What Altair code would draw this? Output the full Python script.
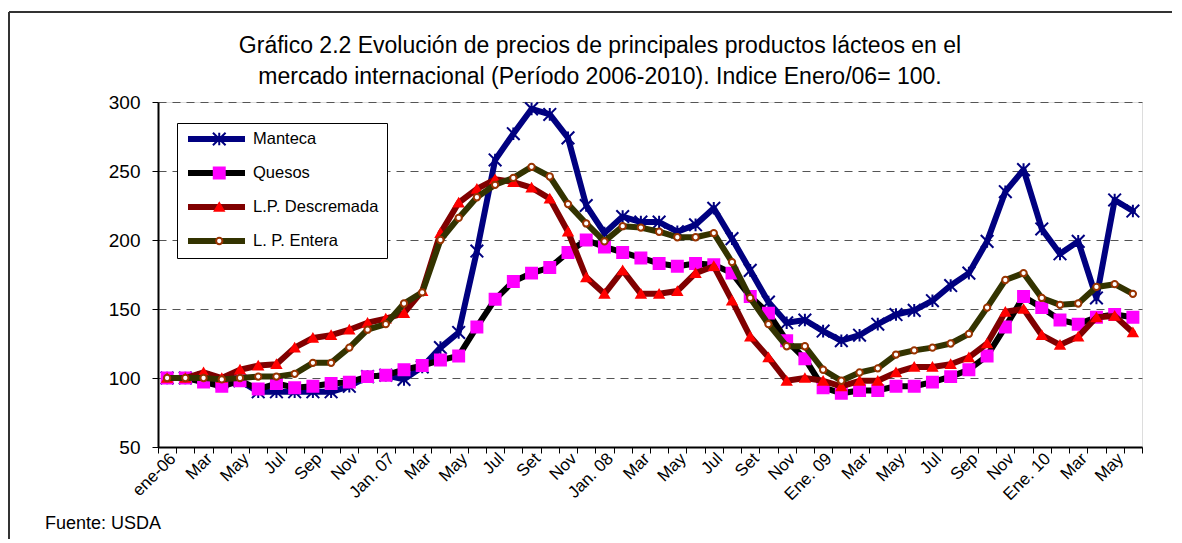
import json
import altair as alt
import pandas as pd

# ---------------- data ----------------
series_names = ["Manteca", "Quesos", "L.P. Descremada", "L. P. Entera"]

tick_labels = ["ene-06", "Mar", "May", "Jul", "Sep", "Nov", "Jan. 07", "Mar", "May",
               "Jul", "Set", "Nov", "Jan. 08", "Mar", "May", "Jul", "Set", "Nov",
               "Ene. 09", "Mar", "May", "Jul", "Sep", "Nov", "Ene. 10", "Mar", "May"]

manteca = [100, 100, 100, 97, 98, 90, 90, 90, 90, 90,
           94, 101, 102, 99, 108, 122, 133, 192, 258, 277,
           295, 291, 274, 225, 205, 217, 213, 213, 206, 211,
           223, 201, 178, 155, 140, 142, 134, 127, 131, 139,
           146, 149, 156, 167, 176, 199, 235, 251, 208, 190,
           199, 158, 229, 221]

quesos = [100, 100, 97, 94, 98, 92, 96, 93, 94, 96,
          97, 101, 102, 106, 109, 113, 116, 137, 157, 170,
          176, 180, 191, 200, 195, 191, 187, 183, 181, 183,
          182, 176, 159, 147, 127, 114, 93, 89, 91, 91,
          94, 94, 97, 101, 106, 116, 137, 159, 151, 142,
          139, 144, 146, 144]

descremada = [100, 100, 104, 100, 106, 109, 110, 122, 129, 131,
              135, 140, 143, 147, 163, 205, 227, 237, 244, 242,
              238, 230, 206, 173, 161, 178, 161, 161, 163, 176,
              181, 156, 130, 115, 98, 100, 98, 94, 98, 98,
              104, 108, 108, 110, 115, 125, 148, 150, 131, 124,
              130, 144, 145, 133]

entera = [100, 100, 100, 99, 100, 101, 101, 103, 111, 111,
          122, 135, 139, 154, 162, 200, 216, 231, 240, 245,
          253, 246, 226, 212, 199, 210, 209, 206, 202, 202,
          205, 184, 158, 139, 123, 123, 106, 98, 104, 107,
          117, 120, 122, 125, 132, 151, 171, 176, 158, 153,
          154, 166, 168, 161]

series_values = [manteca, quesos, descremada, entera]

title_lines = ["Gráfico 2.2  Evolución de precios de principales productos lácteos en el",
               "mercado internacional (Período 2006-2010). Indice Enero/06= 100."]
source_text = "Fuente: USDA"

# ---------------- styles ----------------
line_colors = ["#000080", "#000000", "#800000", "#333300"]
marker_fill = ["transparent", "#FF00FF", "#FF0000", "#FFFFFF"]
marker_stroke = ["#000080", "#FF00FF", "#FF0000", "#993300"]
asterisk = "M-1,-1L1,1M-1,1L1,-1M0,-1L0,1"
marker_shapes = [asterisk, "square", "triangle-up", "circle"]
marker_sizes = [160, 40, 70, 38]
FONT = "Liberation Sans"

rows = []
for name, vals in zip(series_names, series_values):
    for i, v in enumerate(vals):
        rows.append({"i": i, "value": v, "series": name, "marker": name + " "})
df = pd.DataFrame(rows)
marker_domain = [n + " " for n in series_names]

n_months = len(manteca)
xscale = alt.Scale(domain=[-0.5, n_months - 0.5], nice=False, zero=False)
yscale = alt.Scale(domain=[50, 300], nice=False, zero=False)

tick_axis = alt.Axis(orient="bottom", values=[k - 0.5 for k in range(n_months + 1)],
                     labels=False, ticks=True, tickSize=6, tickColor="black", tickWidth=1,
                     domain=True, domainColor="black", domainWidth=2, grid=False, title=None)
label_expr = json.dumps(tick_labels) + "[round(datum.value / 2)]"
label_axis = alt.Axis(orient="bottom", values=list(range(0, n_months, 2)), labelExpr=label_expr,
                      ticks=False, domain=False, grid=False, labelAngle=-45, labelAlign="right",
                      labelBaseline="top", labelFontSize=17, labelFont=FONT, labelColor="black",
                      labelPadding=3, labelOverlap=False, labelFlush=False, title=None)
yaxis = alt.Axis(values=[50, 100, 150, 200, 250, 300], grid=True, gridDash=[8, 6],
                 gridColor="#555555", gridWidth=1.2, tickSize=6, tickColor="black",
                 domainColor="black", domainWidth=2, labelFontSize=19, labelFont=FONT,
                 labelColor="black", labelPadding=12, title=None)

line_legend = alt.Legend(title=None, orient="none", legendX=19, legendY=21, direction="vertical",
                         symbolType="stroke", symbolSize=3249, symbolStrokeWidth=6,
                         clipHeight=16, rowPadding=17, padding=8, labelFont=FONT,
                         labelFontSize=16.5, labelColor="black", labelOffset=5, labelLimit=400,
                         strokeColor="black", fillColor="white")
marker_legend = alt.Legend(title=None, orient="none", legendX=45, legendY=21, direction="vertical",
                           clipHeight=16, rowPadding=17, padding=8, labelFont=FONT,
                           labelFontSize=16.5, labelExpr="''", symbolStrokeWidth=2,
                           symbolOpacity=1)

cscale = alt.Scale(domain=series_names, range=line_colors)

layers = []
# outer frame of the figure
frame_df = pd.DataFrame({"k": [0]})
layers.append(alt.Chart(frame_df).mark_rule(color="#333333", strokeWidth=2).encode(
    x=alt.value(-149), x2=alt.value(1030), y=alt.value(-90)))
layers.append(alt.Chart(frame_df).mark_rule(color="#333333", strokeWidth=2).encode(
    x=alt.value(-149), y=alt.value(-90), y2=alt.value(450)))

for k, name in enumerate(series_names):
    base = alt.Chart(df).transform_filter(alt.datum.series == name)
    line = base.mark_line(strokeWidth=6, strokeJoin="round", strokeCap="round").encode(
        x=alt.X("i:Q", scale=xscale, axis=tick_axis if k == 0 else None),
        y=alt.Y("value:Q", scale=yscale, axis=yaxis),
        color=alt.Color("series:N", scale=cscale, legend=line_legend),
    )
    pts = base.mark_point(opacity=1, strokeWidth=2).encode(
        x=alt.X("i:Q", scale=xscale, axis=label_axis if k == 0 else None),
        y=alt.Y("value:Q", scale=yscale, axis=yaxis),
        shape=alt.Shape("marker:N", scale=alt.Scale(domain=marker_domain, range=marker_shapes),
                        legend=marker_legend),
        fill=alt.Fill("marker:N", scale=alt.Scale(domain=marker_domain, range=marker_fill),
                      legend=marker_legend),
        stroke=alt.Stroke("marker:N", scale=alt.Scale(domain=marker_domain, range=marker_stroke),
                          legend=marker_legend),
        size=alt.Size("marker:N", scale=alt.Scale(domain=marker_domain, range=marker_sizes),
                      legend=marker_legend),
    )
    layers += [line, pts]

# title lines and source note
for txt, ypos in zip(title_lines, [-49, -18]):
    layers.append(alt.Chart(pd.DataFrame({"t": [txt]})).mark_text(
        align="center", baseline="alphabetic", font=FONT, fontSize=23, color="black").encode(
        text="t:N", x=alt.value(442), y=alt.value(ypos)))

layers.append(alt.Chart(pd.DataFrame({"t": [source_text]})).mark_text(
    align="left", baseline="middle", font=FONT, fontSize=18, color="black").encode(
    text="t:N", x=alt.value(-113), y=alt.value(422)))

chart = alt.layer(*layers).properties(
    width=984, height=345,
    padding={"left": 150, "top": 94, "right": 30, "bottom": 92},
    autosize=alt.AutoSizeParams(type="none"),
).resolve_axis(x="independent").configure_view(
    stroke="#808080", strokeWidth=2
).configure(font=FONT, background="white")

chart.save("out.html", embed_options={"renderer": "svg", "actions": False})
